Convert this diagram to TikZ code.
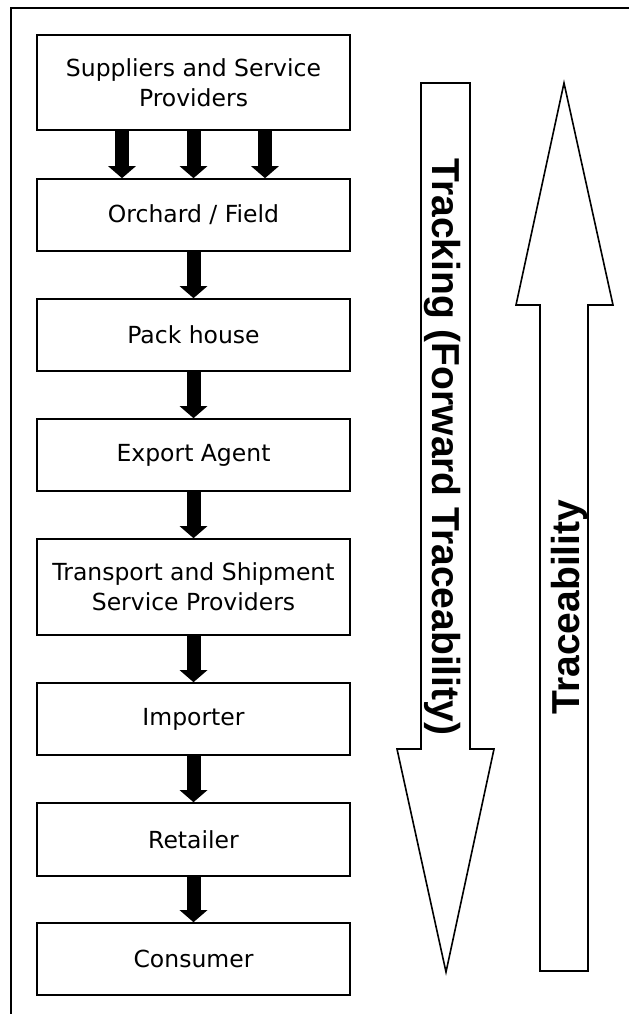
\documentclass[tikz,border=0pt]{standalone}
\usepackage{fontspec}
\setmainfont{DejaVu Sans}
\newfontfamily\arrowfont{Liberation Sans}
\usetikzlibrary{arrows.meta}

\tikzset{
  stage/.style={draw, line width=1.6pt, minimum width=313, inner sep=0pt, align=center,
    font=\fontsize{23.5}{30}\selectfont},
  flow/.style={line width=14pt, -{Triangle[width=27pt,length=12pt]}},
  bigarrow/.style={draw, line width=1.6pt, line join=miter},
  arrowtext/.style={inner sep=0pt, font=\arrowfont\bfseries\fontsize{39}{44}\selectfont}
}

\begin{document}
\begin{tikzpicture}[x=1pt, y=-1pt]

  %% ==== frame (cropped: top and left only) ====
  \draw[line width=2pt] (11,1014) -- (11,8) -- (629,8);

  %% ==== chain of stages ====
  \node[stage, minimum height=95] (sup) at (193.5,82.5) {Suppliers and Service\\Providers};
  \node[stage, minimum height=72] (orch) at (193.5,215) {Orchard / Field};
  \node[stage, minimum height=72] (pack) at (193.5,335) {Pack house};
  \node[stage, minimum height=72] (expo) at (193.5,455) {Export Agent};
  \node[stage, minimum height=96] (trans) at (193.5,587) {Transport and Shipment\\Service Providers};
  \node[stage, minimum height=72] (imp) at (193.5,719) {Importer};
  \node[stage, minimum height=73] (ret) at (193.5,839.5) {Retailer};
  \node[stage, minimum height=72] (cons) at (193.5,959) {Consumer};

  %% ==== flow arrows ====
  \foreach \dx in {-71.5,0,71.5}
    \draw[flow] ([xshift=\dx]sup.south) -- ([xshift=\dx]orch.north);
  \foreach \a/\b in {orch/pack, pack/expo, expo/trans, trans/imp, imp/ret, ret/cons}
    \draw[flow] (\a.south) -- (\b.north);

  %% ==== tracking (down) and traceability (up) ====
  \path[bigarrow] (421,83) -- (470,83) -- (470,749) -- (494,749) -- (446,972)
    -- (397,749) -- (421,749) -- cycle;
  \path[bigarrow] (564,83) -- (613,305) -- (588,305) -- (588,971) -- (540,971)
    -- (540,305) -- (516,305) -- cycle;

  \node[arrowtext, rotate=-90] (track) at (442.5,447) {Tracking (Forward Traceability)};
  \node[arrowtext, rotate=90] (trace) at (569,607) {Traceability};

  \pgfresetboundingbox
  \path[use as bounding box] (0,0) rectangle (629,1014);
\end{tikzpicture}
\end{document}
